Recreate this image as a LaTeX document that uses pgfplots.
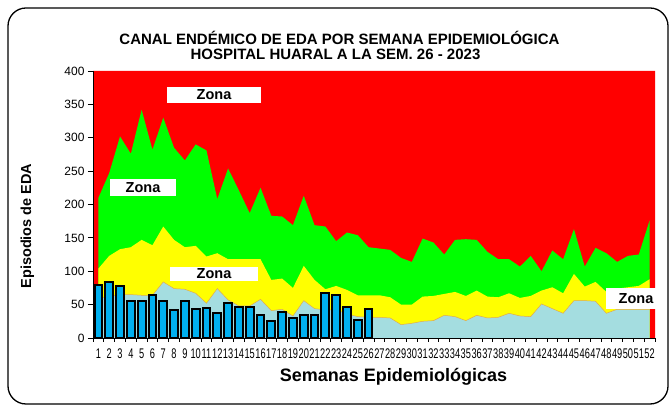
\documentclass[border=0pt]{standalone}
\usepackage{fontspec}
\setmainfont{Liberation Sans}
\usepackage{graphicx}
\usepackage{pgfplots}
\pgfplotsset{compat=1.18}

\definecolor{zred}{RGB}{255,0,0}
\definecolor{zgreen}{RGB}{0,255,0}
\definecolor{zyellow}{RGB}{255,255,0}
\definecolor{zcyan}{RGB}{164,221,224}
\definecolor{zblue}{RGB}{0,176,240}
\definecolor{zedge}{RGB}{230,170,70}

\begin{document}
\begin{tikzpicture}[x=1pt,y=1pt]
\useasboundingbox (0,0) rectangle (672,409);
\draw[line width=1.3pt, rounded corners=18pt] (8,5) rectangle (668,401);

\begin{axis}[
  at={(93pt,71pt)}, anchor=south west,
  scale only axis,
  width=562pt, height=267pt,
  xmin=0.5, xmax=52.5,
  ymin=0, ymax=400,
  axis x line*=bottom,
  axis y line*=left,
  axis line style={line width=0.8pt, black},
  axis on top,
  xtick={1,...,52},
  minor xtick={0.5,1.5,...,52.5},
  major x tick style={draw=none},
  minor x tick style={draw=black, line width=0.8pt},
  minor tick length=4pt,
  ytick={0,50,...,400},
  major tick length=5pt,
  tick align=outside,
  ytick style={line width=0.8pt, black},
  xticklabel={\scalebox{0.66}[1]{\pgfmathprintnumber{\tick}}},
  xticklabel style={font=\fontsize{14}{15}\selectfont, inner sep=1pt, yshift=-5pt},
  yticklabel style={font=\fontsize{12}{13}\selectfont},
  /pgf/number format/assume math mode=true,
  /pgf/number format/1000 sep={},
  clip=false,
]
% zona de epidemia (fondo rojo)
\addplot[ybar, bar width=1, fill=zred, draw=none] coordinates {
  (1,400)(2,400)(3,400)(4,400)(5,400)(6,400)(7,400)(8,400)(9,400)(10,400)
  (11,400)(12,400)(13,400)(14,400)(15,400)(16,400)(17,400)(18,400)(19,400)(20,400)
  (21,400)(22,400)(23,400)(24,400)(25,400)(26,400)(27,400)(28,400)(29,400)(30,400)
  (31,400)(32,400)(33,400)(34,400)(35,400)(36,400)(37,400)(38,400)(39,400)(40,400)
  (41,400)(42,400)(43,400)(44,400)(45,400)(46,400)(47,400)(48,400)(49,400)(50,400)
  (51,400)(52,400)};
% zona de alarma
\addplot[fill=zgreen, draw=none] coordinates {
  (1,210)(2,247)(3,302)(4,276)(5,342)(6,282)(7,330)(8,285)(9,266)(10,290)
  (11,281)(12,208)(13,254)(14,221)(15,187)(16,225)(17,183)(18,182)(19,169)(20,213)
  (21,169)(22,167)(23,145)(24,158)(25,154)(26,136)(27,134)(28,132)(29,120)(30,114)
  (31,149)(32,143)(33,125)(34,147)(35,148)(36,147)(37,129)(38,118)(39,118)(40,107)
  (41,123)(42,100)(43,131)(44,118)(45,163)(46,107)(47,135)(48,127)(49,114)(50,123)
  (51,125)(52,176)} \closedcycle;
% zona de seguridad
\addplot[fill=zyellow, draw=none] coordinates {
  (1,104)(2,123)(3,133)(4,136)(5,147)(6,139)(7,167)(8,147)(9,136)(10,138)
  (11,122)(12,127)(13,118)(14,118)(15,118)(16,118)(17,87)(18,89)(19,75)(20,108)
  (21,87)(22,73)(23,78)(24,72)(25,64)(26,64)(27,64)(28,61)(29,50)(30,50)
  (31,62)(32,63)(33,66)(34,69)(35,63)(36,71)(37,62)(38,61)(39,67)(40,60)
  (41,63)(42,71)(43,76)(44,67)(45,96)(46,77)(47,84)(48,69)(49,74)(50,76)
  (51,78)(52,88)} \closedcycle;
% zona de exito
\addplot[fill=zcyan, draw=none] coordinates {
  (1,60)(2,62)(3,65)(4,65)(5,64)(6,64)(7,84)(8,74)(9,73)(10,67)
  (11,52)(12,74)(13,57)(14,48)(15,48)(16,58)(17,41)(18,43)(19,33)(20,56)
  (21,44)(22,42)(23,42)(24,36)(25,32)(26,31)(27,31)(28,30)(29,20)(30,22)
  (31,25)(32,26)(33,34)(34,32)(35,26)(36,34)(37,30)(38,31)(39,37)(40,33)
  (41,32)(42,51)(43,44)(44,37)(45,56)(46,56)(47,55)(48,37)(49,43)(50,43)
  (51,43)(52,43)} \closedcycle;
\addplot[zedge, line width=0.5pt, no marks] coordinates {
  (1,60)(2,62)(3,65)(4,65)(5,64)(6,64)(7,84)(8,74)(9,73)(10,67)
  (11,52)(12,74)(13,57)(14,48)(15,48)(16,58)(17,41)(18,43)(19,33)(20,56)
  (21,44)(22,42)(23,42)(24,36)(25,32)(26,31)(27,31)(28,30)(29,20)(30,22)
  (31,25)(32,26)(33,34)(34,32)(35,26)(36,34)(37,30)(38,31)(39,37)(40,33)
  (41,32)(42,51)(43,44)(44,37)(45,56)(46,56)(47,55)(48,37)(49,43)(50,43)
  (51,43)(52,43)};
% casos 2023
\addplot[ybar, bar width=0.72, fill=zblue, draw=black, line width=2pt] coordinates {
  (1,79)(2,84)(3,78)(4,56)(5,56)(6,65)(7,56)(8,42)(9,56)(10,44)
  (11,45)(12,38)(13,52)(14,46)(15,46)(16,34)(17,26)(18,39)(19,30)(20,35)
  (21,35)(22,68)(23,65)(24,46)(25,27)(26,43)};
\end{axis}

% rotulos de zonas
\node[fill=white, minimum width=94pt, minimum height=16pt, inner sep=0pt] at (214,314) {};
\node at (214,314) {\fontsize{14.5}{16}\selectfont\bfseries Zona};
\node[fill=white, minimum width=66pt, minimum height=17pt, inner sep=0pt] at (143,221.5) {};
\node at (143,221.5) {\fontsize{14.5}{16}\selectfont\bfseries Zona};
\node[fill=white, minimum width=88pt, minimum height=14pt, inner sep=0pt] at (214,135) {};
\node at (214,135) {\fontsize{14.5}{16}\selectfont\bfseries Zona};
\node[fill=white, minimum width=50pt, minimum height=21pt, inner sep=0pt] at (631,110.5) {};
\node at (636,110.5) {\fontsize{14.5}{16}\selectfont\bfseries Zona};

% titulos
\node at (339.5,370.7) {\fontsize{15}{17}\selectfont\bfseries CANAL ENDÉMICO DE EDA POR SEMANA EPIDEMIOLÓGICA};
\node at (335.5,355) {\fontsize{15}{17}\selectfont\bfseries HOSPITAL HUARAL A LA SEM. 26 - 2023};
\node[rotate=90] at (27.5,183) {\fontsize{14.5}{16}\selectfont\bfseries Episodios de EDA};
\node at (393.5,32) {\fontsize{18}{20}\selectfont\bfseries Semanas Epidemiológicas};
\end{tikzpicture}
\end{document}
